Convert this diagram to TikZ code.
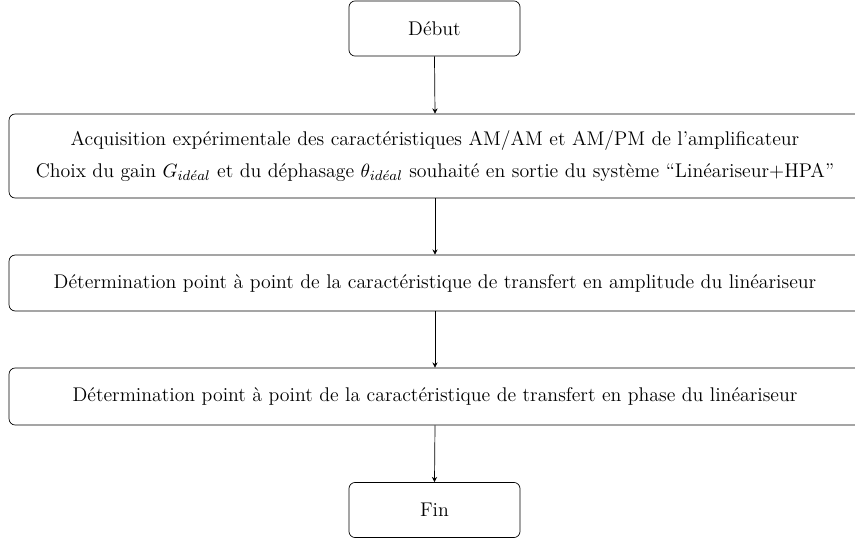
\documentclass[tikz,border=0pt]{standalone}
\usetikzlibrary{arrows.meta}
\begin{document}
\begin{tikzpicture}[x=0.57pt,y=-0.57pt,
  box/.style={draw, line width=0.4pt, rounded corners=3.5pt, align=center, inner sep=0pt, font=\fontsize{11.3}{13.6}\selectfont},
  small/.style={box, minimum width=97.5pt, minimum height=31.4pt},
  wide/.style={box, minimum width=485.6pt},
  arr/.style={-{Stealth[length=3pt,width=3pt]}, line width=0.4pt}]
\useasboundingbox (0,0) rectangle (855,542);
\node[small] (debut) at (434.5,28.5) {Début};
\node[wide, minimum height=47.9pt] (acq) at (435,156) {Acquisition expérimentale des caractéristiques AM/AM et AM/PM de l'amplificateur\\[5pt]
Choix du gain $G_{id\acute{e}al}$ et du déphasage $\theta_{id\acute{e}al}$ souhaité en sortie du système ``Linéariseur+HPA''};
\node[wide, minimum height=31.9pt] (amp) at (435,283) {Détermination point à point de la caractéristique de transfert en amplitude du linéariseur};
\node[wide, minimum height=32.5pt] (phase) at (435,396.5) {Détermination point à point de la caractéristique de transfert en phase du linéariseur};
\node[small] (fin) at (434.5,510) {Fin};
\draw[arr] (debut.south) -- (acq.north);
\draw[arr] (acq.south) -- (amp.north);
\draw[arr] (amp.south) -- (phase.north);
\draw[arr] (phase.south) -- (fin.north);
\end{tikzpicture}
\end{document}
